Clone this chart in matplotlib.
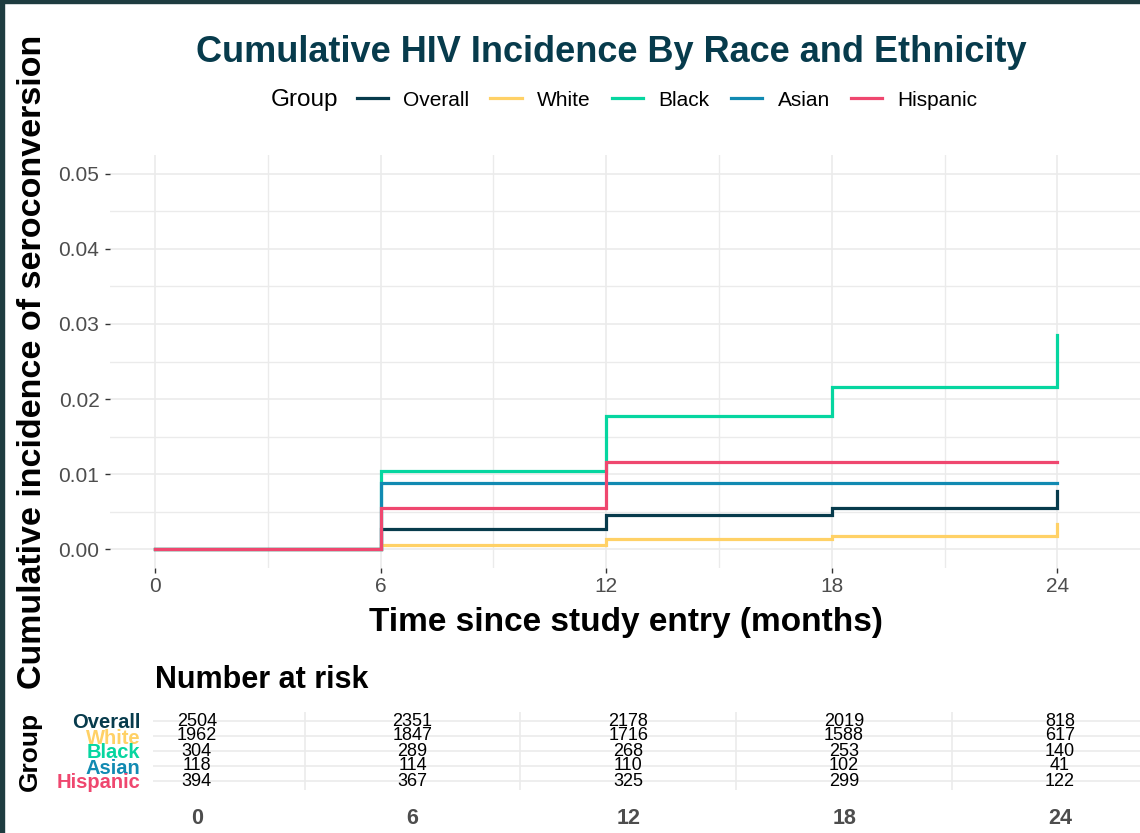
import matplotlib.pyplot as plt
from matplotlib.lines import Line2D
from matplotlib.patches import Rectangle

plt.rcParams['font.family'] = ['Liberation Sans', 'DejaVu Sans']

# cumulative incidence at each follow-up visit (months)
months = [0, 6, 12, 18, 24]
groups = ['Overall', 'White', 'Black', 'Asian', 'Hispanic']
colors = ['#073b4c', '#ffd166', '#06d6a0', '#118ab2', '#ef476f']

overall = [0.0, 0.00267, 0.00453, 0.0055, 0.0077]
white = [0.0, 0.00053, 0.0013, 0.0017, 0.0033]
black = [0.0, 0.0104, 0.0177, 0.0216, 0.0285]
asian = [0.0, 0.0088, 0.0088, 0.0088, 0.0088]
hispanic = [0.0, 0.0055, 0.0116, 0.0116, 0.0116]
curves = [overall, white, black, asian, hispanic]

# number at risk at each visit
risk_overall = [2504, 2351, 2178, 2019, 818]
risk_white = [1962, 1847, 1716, 1588, 617]
risk_black = [304, 289, 268, 253, 140]
risk_asian = [118, 114, 110, 102, 41]
risk_hispanic = [394, 367, 325, 299, 122]
risk = [risk_overall, risk_white, risk_black, risk_asian, risk_hispanic]

W, H = 1140, 833
fig = plt.figure(figsize=(W / 100, H / 100), dpi=100)
grid_col = '#ebebeb'
tick_col = '#4d4d4d'

# ---- main curve panel
ax = fig.add_axes([110 / W, 1 - 568 / H, 1030 / W, 413 / H])
for vals, c in zip(curves, colors):
    ax.step(months, vals, where='post', color=c, lw=2.3, solid_joinstyle='miter')
ax.set_xlim(-1.2, 26.2)
ax.set_ylim(-0.0025, 0.0525)
ax.set_xticks(months)
ax.set_xticks([3, 9, 15, 21], minor=True)
ax.set_yticks([0, 0.01, 0.02, 0.03, 0.04, 0.05])
ax.set_yticks([0.005, 0.015, 0.025, 0.035, 0.045], minor=True)
ax.set_yticklabels(['0.00', '0.01', '0.02', '0.03', '0.04', '0.05'])
ax.grid(which='major', color=grid_col, lw=1.2)
ax.grid(which='minor', color=grid_col, lw=1.0)
ax.set_axisbelow(True)
for s in ax.spines.values():
    s.set_visible(False)
ax.tick_params(which='major', length=3.6, width=1, color='#333333',
               labelsize=15, labelcolor=tick_col)
ax.tick_params(axis='y', pad=4)
ax.tick_params(axis='x', pad=3)
ax.tick_params(which='minor', length=0)

fig.text(611 / W, 1 - 52 / H, 'Cumulative HIV Incidence By Race and Ethnicity',
         ha='center', va='center', fontsize=26, fontweight='bold', color='#073b4c')
fig.text(33 / W, 1 - 362 / H, 'Cumulative incidence of seroconversion',
         rotation=90, ha='center', va='center', fontsize=24.5, fontweight='bold')
fig.text(626 / W, 1 - 623 / H, 'Time since study entry (months)',
         ha='center', va='center', fontsize=24, fontweight='bold')

# legend across the top
handles = [Line2D([], [], color=c, lw=2.3) for c in colors]
fig.legend(handles, groups, ncol=5, loc='center', frameon=False,
           bbox_to_anchor=(667 / W, 1 - 100 / H), fontsize=15,
           handlelength=1.5, handletextpad=0.75, columnspacing=1.0)
fig.text(338 / W, 1 - 100 / H, 'Group', ha='right', va='center', fontsize=17.5)

# ---- number at risk table
fig.text(155 / W, 1 - 680 / H, 'Number at risk', ha='left', va='center',
         fontsize=22, fontweight='bold')
at = fig.add_axes([153 / W, 1 - 790 / H, 987 / W, 78 / H])
rows = [5, 4, 3, 2, 1]
for counts, r in zip(risk, rows):
    for m, n in zip(months, counts):
        at.text(m, r, str(n), ha='center', va='center', fontsize=13)
at.set_xlim(-1.22, 26.23)
at.set_ylim(0.4, 5.6)
at.set_xticks(months)
at.set_xticklabels([str(m) for m in months], fontweight='bold')
at.set_xticks([3, 9, 15, 21], minor=True)
at.set_yticks(rows)
at.set_yticklabels(groups, fontweight='bold')
for lab, c in zip(at.get_yticklabels(), colors):
    lab.set_color(c)
at.grid(which='both', color=grid_col, lw=1.2)
at.grid(which='major', axis='x', visible=False)
at.set_axisbelow(True)
for s in at.spines.values():
    s.set_visible(False)
at.tick_params(axis='x', which='both', length=0, labelsize=15.5,
               labelcolor=tick_col, pad=13)
at.tick_params(axis='y', length=0, labelsize=14.5, pad=9)
fig.text(30 / W, 1 - 751 / H, 'Group', rotation=90, ha='center', va='center',
         fontsize=19, fontweight='bold')

# dark frame strip on the top and left edges
fig.patches.append(Rectangle((0, 0), 4 / W, 1, transform=fig.transFigure,
                             color='#1e3c40', zorder=10))
fig.patches.append(Rectangle((0, 1 - 3 / H), 1, 3 / H, transform=fig.transFigure,
                             color='#1e3c40', zorder=10))

fig.savefig('out.png', dpi=100)
